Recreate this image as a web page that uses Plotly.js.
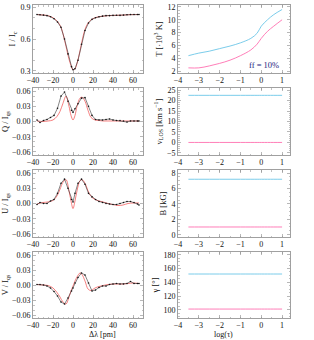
<!DOCTYPE html>
<html><head><meta charset="utf-8">
<script src="https://cdn.plot.ly/plotly-3.0.1.min.js"></script>
<style>body{margin:0;background:#fff}#c{width:314px;height:340px}</style>
</head><body><div id="c"></div>
<script>
// Observed wavelength grid (pm) and profiles
const wlObs = [-36,-33,-29.5,-26,-22.5,-19,-15.5,-12,-8.5,-5,-1.5,0,2,5,8.5,12,15.5,19,22.5,26,29.5,33,36.5,40,43.5,47,50.5,54,57.5,61,64.5,66];
const I_obs = [0.83,0.828,0.825,0.82,0.81,0.79,0.76,0.71,0.60,0.46,0.34,0.31,0.32,0.40,0.55,0.68,0.75,0.785,0.80,0.81,0.815,0.82,0.82,0.822,0.823,0.822,0.825,0.828,0.83,0.83,0.83,0.83];
const Q_obs = [0.003,-0.002,0.002,0.004,0.008,0.012,0.026,0.05,0.058,0.04,0.022,0.018,0.025,0.035,0.046,0.047,0.03,0.012,0.004,0.003,0.003,0.004,0.005,0.003,0.002,0.002,0.001,-0.001,0.001,0.001,0.001,0.001];
const U_obs = [-0.002,0.002,0.0,0.0,0.005,0.008,0.02,0.04,0.048,0.03,0.008,0.003,0.02,0.04,0.048,0.038,0.02,0.013,0.008,0.004,0.002,0.0,-0.001,-0.002,-0.002,0.0,0.002,0.004,0.004,0.002,-0.001,-0.003];
const V_obs = [0.001,0.001,0.0,-0.002,-0.006,-0.013,-0.022,-0.034,-0.038,-0.026,-0.012,-0.006,0.004,0.015,0.024,0.02,0.004,-0.012,-0.010,-0.005,-0.002,-0.002,0.001,0.002,0.003,0.002,0.002,0.003,0.007,0.003,0.003,0.003];
// Synthetic (fit) profiles
const wlFit = [-36,-30,-25,-20,-16,-13,-10,-7,-4,-2,0,2,4,7,9,12,15,18,22,26,30,35,40,45,50,55,60,66];
const I_fit = [0.83,0.826,0.82,0.80,0.77,0.73,0.65,0.53,0.41,0.35,0.31,0.32,0.37,0.49,0.58,0.69,0.75,0.78,0.80,0.81,0.815,0.82,0.822,0.823,0.825,0.828,0.83,0.83];
const Q_fit = [0.001,0.0,0.001,0.003,0.01,0.02,0.036,0.05,0.03,0.012,0.003,0.012,0.03,0.046,0.048,0.04,0.022,0.008,0.003,0.002,0.001,0.001,0.001,0.001,0.001,0.001,0.001,0.001];
const U_fit = [-0.001,0.002,0.003,0.006,0.015,0.028,0.042,0.047,0.025,0.005,-0.01,0.005,0.025,0.045,0.047,0.04,0.025,0.014,0.008,0.005,0.003,0.0,-0.002,-0.004,-0.003,0.0,0.001,0.001];
const V_fit = [0.001,0.0,-0.001,-0.006,-0.015,-0.024,-0.034,-0.038,-0.024,-0.012,-0.002,0.008,0.016,0.024,0.021,0.008,-0.008,-0.011,-0.006,-0.003,-0.001,0.001,0.002,0.002,0.002,0.003,0.004,0.003];
// Atmosphere (log tau)
const logTau = [-3.5,-3,-2.5,-2,-1.5,-1,-0.5,-0.2,0,0.3,0.6,1];
const T_c1 = [4.4,4.8,5.1,5.5,5.9,6.4,7.1,7.9,9.0,10.0,10.8,11.6];
const T_c2 = [2.5,2.5,2.8,3.2,3.7,4.4,5.3,6.2,7.1,8.2,9.0,10.0];
const v_c1 = [22.5,22.5,22.5,22.5,22.5,22.5,22.5,22.5,22.5,22.5,22.5,22.5];
const v_c2 = [0,0,0,0,0,0,0,0,0,0,0,0];
const B_c1 = [7.2,7.2,7.2,7.2,7.2,7.2,7.2,7.2,7.2,7.2,7.2,7.2];
const B_c2 = [1.0,1.0,1.0,1.0,1.0,1.0,1.0,1.0,1.0,1.0,1.0,1.0];
const g_c1 = [152,152,152,152,152,152,152,152,152,152,152,152];
const g_c2 = [101,101,101,101,101,101,101,101,101,101,101,101];

const W=314,H=340;
const FAM='Liberation Serif, Times New Roman, serif';
const FONT = {family:FAM, size:8, color:'#111'};
const TFONT = {family:FAM, size:8.5, color:'#111'};
const cyan='#6cc6e8', mag='#ff6fb0';
const traces=[];
const left=[I_obs,Q_obs,U_obs,V_obs], leftFit=[I_fit,Q_fit,U_fit,V_fit];
const right=[[T_c1,T_c2],[v_c1,v_c2],[B_c1,B_c2],[g_c1,g_c2]];
for(let i=0;i<4;i++){
  const xa='x'+(2*i+1), ya='y'+(2*i+1);
  traces.push({x:wlFit,y:leftFit[i],xaxis:xa,yaxis:ya,mode:'lines',line:{color:'#f04848',width:0.7,shape:'spline'},hoverinfo:'skip'});
  traces.push({x:wlObs,y:left[i],xaxis:xa,yaxis:ya,mode:'lines+markers',line:{color:'#333',width:0.6},marker:{size:1.6,color:'#111'},hoverinfo:'skip'});
  const xb='x'+(2*i+2), yb='y'+(2*i+2);
  traces.push({x:logTau,y:right[i][0],xaxis:xb,yaxis:yb,mode:'lines',line:{color:cyan,width:0.9,shape:'spline'},hoverinfo:'skip'});
  traces.push({x:logTau,y:right[i][1],xaxis:xb,yaxis:yb,mode:'lines',line:{color:mag,width:0.9,shape:'spline'},hoverinfo:'skip'});
}
const tops=[5,88,170,252], bots=[73,155,237,318];
const leftY=[{range:[0.28,0.92],dtick:0.3,fmt:'.1f',t:'I / I<sub>c</sub>'},
             {range:[-0.066,0.066],dtick:0.03,fmt:'.2f',t:'Q / I<sub>qs</sub>'},
             {range:[-0.066,0.066],dtick:0.03,fmt:'.2f',t:'U / I<sub>qs</sub>'},
             {range:[-0.066,0.066],dtick:0.03,fmt:'.2f',t:'V / I<sub>qs</sub>'}];
const rightY=[{range:[1.7,12.3],dtick:2,t:'T [·10<sup>3</sup> K]'},
              {range:[-6,26],dtick:5,t:'v<sub>LOS</sub> [km s<sup>−1</sup>]'},
              {range:[-0.3,8.4],dtick:2,t:'B [kG]'},
              {range:[88,184],dtick:20,t:'γ [°]'}];
const base={showgrid:false,zeroline:false,showline:true,linecolor:'#888',linewidth:0.8,mirror:'ticks',ticks:'inside',ticklen:3,tickcolor:'#888',tickwidth:0.6,minor:{ticks:'inside',ticklen:1.5,tickcolor:'#999',nticks:5},tickfont:FONT};
const layout={width:W,height:H,margin:{l:0,r:0,t:0,b:0},paper_bgcolor:'#fff',plot_bgcolor:'#fff',showlegend:false,font:FONT,annotations:[]};
for(let i=0;i<4;i++){
  const yd=[1-bots[i]/H,1-tops[i]/H];
  layout['xaxis'+(2*i+1)]=Object.assign({},base,{domain:[33/W,143/W],anchor:'y'+(2*i+1),range:[-40,70],tickvals:[-40,-20,0,20,40,60],ticklabelstandoff:0});
  layout['yaxis'+(2*i+1)]=Object.assign({},base,{domain:yd,anchor:'x'+(2*i+1),range:leftY[i].range,dtick:leftY[i].dtick,tick0:0,tickformat:leftY[i].fmt,
     title:{text:leftY[i].t,font:TFONT,standoff:3}});
  layout['xaxis'+(2*i+2)]=Object.assign({},base,{domain:[178/W,290/W],anchor:'y'+(2*i+2),range:[-4,1.38],tickvals:[-4,-3,-2,-1,0,1],ticklabelstandoff:0});
  layout['yaxis'+(2*i+2)]=Object.assign({},base,{domain:yd,anchor:'x'+(2*i+2),range:rightY[i].range,dtick:rightY[i].dtick,tick0:0,
     title:{text:rightY[i].t,font:TFONT,standoff:3}});
}
layout.annotations.push({xref:'paper',yref:'paper',x:88/W,y:0,yanchor:'bottom',text:'Δλ [pm]',showarrow:false,font:{family:FAM,size:8,color:'#111'},borderpad:0});
layout.annotations.push({xref:'paper',yref:'paper',x:234/W,y:0,yanchor:'bottom',text:'log(τ)',showarrow:false,font:{family:FAM,size:8,color:'#111'},borderpad:0});
layout.annotations.push({xref:'x2',yref:'y2',x:0.95,y:2.9,text:'ff = 10%',showarrow:false,xanchor:'right',font:{family:FAM,size:8.5,color:'#1a237e'}});
Plotly.newPlot('c',traces,layout,{staticPlot:true});
</script></body></html>
